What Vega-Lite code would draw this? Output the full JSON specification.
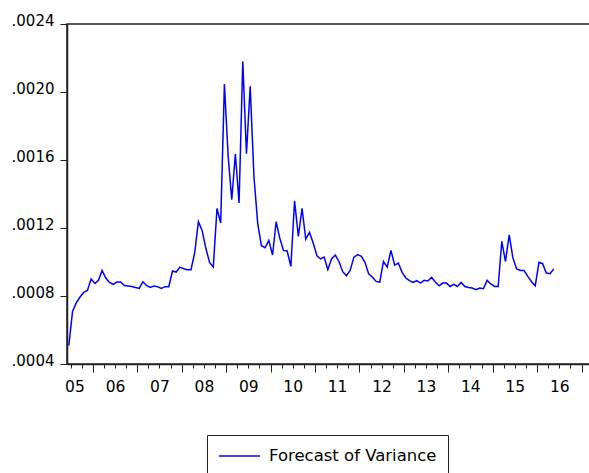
{
  "$schema": "https://vega.github.io/schema/vega-lite/v6.json",
  "width": 523,
  "height": 340,
  "autosize": "none",
  "padding": {"left": 67, "top": 24, "right": 0, "bottom": 109},
  "background": "white",
  "config": {
    "view": {"stroke": "#222", "strokeWidth": 1.5},
    "font": "DejaVu Sans",
    "axis": {"grid": false, "domainColor": "#222", "tickColor": "#222", "labelColor": "#000", "title": null, "labelFont": "DejaVu Sans"},
    "legend": {"labelFont": "DejaVu Sans"}
  },
  "data": {"values": [
    {"date": "2005-06", "v": 0.000508}, {"date": "2005-07", "v": 0.000709}, {"date": "2005-08", "v": 0.000759}, {"date": "2005-09", "v": 0.000794},
    {"date": "2005-10", "v": 0.000821}, {"date": "2005-11", "v": 0.000833}, {"date": "2005-12", "v": 0.0009},
    {"date": "2006-01", "v": 0.000874}, {"date": "2006-02", "v": 0.000892}, {"date": "2006-03", "v": 0.00095}, {"date": "2006-04", "v": 0.000906},
    {"date": "2006-05", "v": 0.00088}, {"date": "2006-06", "v": 0.000868}, {"date": "2006-07", "v": 0.000882}, {"date": "2006-08", "v": 0.000882},
    {"date": "2006-09", "v": 0.000862}, {"date": "2006-10", "v": 0.000859}, {"date": "2006-11", "v": 0.000856}, {"date": "2006-12", "v": 0.00085},
    {"date": "2007-01", "v": 0.000845}, {"date": "2007-02", "v": 0.000884}, {"date": "2007-03", "v": 0.000862}, {"date": "2007-04", "v": 0.00085},
    {"date": "2007-05", "v": 0.000859}, {"date": "2007-06", "v": 0.000855}, {"date": "2007-07", "v": 0.000845}, {"date": "2007-08", "v": 0.000855},
    {"date": "2007-09", "v": 0.000855}, {"date": "2007-10", "v": 0.000947}, {"date": "2007-11", "v": 0.000941}, {"date": "2007-12", "v": 0.00097},
    {"date": "2008-01", "v": 0.00096}, {"date": "2008-02", "v": 0.000955}, {"date": "2008-03", "v": 0.000955}, {"date": "2008-04", "v": 0.001053},
    {"date": "2008-05", "v": 0.001237}, {"date": "2008-06", "v": 0.001186}, {"date": "2008-07", "v": 0.001082}, {"date": "2008-08", "v": 0.000998},
    {"date": "2008-09", "v": 0.00097}, {"date": "2008-10", "v": 0.001315}, {"date": "2008-11", "v": 0.001229}, {"date": "2008-12", "v": 0.002047},
    {"date": "2009-01", "v": 0.001621}, {"date": "2009-02", "v": 0.001366}, {"date": "2009-03", "v": 0.001635}, {"date": "2009-04", "v": 0.001347},
    {"date": "2009-05", "v": 0.00218}, {"date": "2009-06", "v": 0.001637}, {"date": "2009-07", "v": 0.002033}, {"date": "2009-08", "v": 0.001503},
    {"date": "2009-09", "v": 0.001229}, {"date": "2009-10", "v": 0.001096}, {"date": "2009-11", "v": 0.001084}, {"date": "2009-12", "v": 0.001127},
    {"date": "2010-01", "v": 0.001041}, {"date": "2010-02", "v": 0.001237}, {"date": "2010-03", "v": 0.001141}, {"date": "2010-04", "v": 0.001068},
    {"date": "2010-05", "v": 0.001065}, {"date": "2010-06", "v": 0.000974}, {"date": "2010-07", "v": 0.00136}, {"date": "2010-08", "v": 0.00115},
    {"date": "2010-09", "v": 0.001315}, {"date": "2010-10", "v": 0.001135}, {"date": "2010-11", "v": 0.001174}, {"date": "2010-12", "v": 0.001112},
    {"date": "2011-01", "v": 0.001037}, {"date": "2011-02", "v": 0.001018}, {"date": "2011-03", "v": 0.001029}, {"date": "2011-04", "v": 0.000955},
    {"date": "2011-05", "v": 0.001018}, {"date": "2011-06", "v": 0.001041}, {"date": "2011-07", "v": 0.001003}, {"date": "2011-08", "v": 0.000943},
    {"date": "2011-09", "v": 0.000919}, {"date": "2011-10", "v": 0.00095}, {"date": "2011-11", "v": 0.001027}, {"date": "2011-12", "v": 0.001043},
    {"date": "2012-01", "v": 0.001033}, {"date": "2012-02", "v": 0.000998}, {"date": "2012-03", "v": 0.000931}, {"date": "2012-04", "v": 0.000912},
    {"date": "2012-05", "v": 0.000886}, {"date": "2012-06", "v": 0.000882}, {"date": "2012-07", "v": 0.001003}, {"date": "2012-08", "v": 0.00097},
    {"date": "2012-09", "v": 0.001068}, {"date": "2012-10", "v": 0.000982}, {"date": "2012-11", "v": 0.000994}, {"date": "2012-12", "v": 0.000939},
    {"date": "2013-01", "v": 0.000906}, {"date": "2013-02", "v": 0.00089}, {"date": "2013-03", "v": 0.00088}, {"date": "2013-04", "v": 0.00089},
    {"date": "2013-05", "v": 0.000876}, {"date": "2013-06", "v": 0.000892}, {"date": "2013-07", "v": 0.000888}, {"date": "2013-08", "v": 0.000909},
    {"date": "2013-09", "v": 0.000882}, {"date": "2013-10", "v": 0.00086}, {"date": "2013-11", "v": 0.000876}, {"date": "2013-12", "v": 0.000876},
    {"date": "2014-01", "v": 0.000856}, {"date": "2014-02", "v": 0.000868}, {"date": "2014-03", "v": 0.000856}, {"date": "2014-04", "v": 0.00088},
    {"date": "2014-05", "v": 0.000856}, {"date": "2014-06", "v": 0.00085}, {"date": "2014-07", "v": 0.000847}, {"date": "2014-08", "v": 0.000837},
    {"date": "2014-09", "v": 0.000847}, {"date": "2014-10", "v": 0.000843}, {"date": "2014-11", "v": 0.000892}, {"date": "2014-12", "v": 0.000871},
    {"date": "2015-01", "v": 0.000856}, {"date": "2015-02", "v": 0.000856}, {"date": "2015-03", "v": 0.001121}, {"date": "2015-04", "v": 0.001003},
    {"date": "2015-05", "v": 0.00116}, {"date": "2015-06", "v": 0.001024}, {"date": "2015-07", "v": 0.000959}, {"date": "2015-08", "v": 0.00095},
    {"date": "2015-09", "v": 0.00095}, {"date": "2015-10", "v": 0.000915}, {"date": "2015-11", "v": 0.000884}, {"date": "2015-12", "v": 0.00086},
    {"date": "2016-01", "v": 0.000998}, {"date": "2016-02", "v": 0.00099}, {"date": "2016-03", "v": 0.000935}, {"date": "2016-04", "v": 0.000931},
    {"date": "2016-05", "v": 0.000959}
  ]},
  "layer": [
    {
      "mark": {"type": "line", "color": "#0000ff", "strokeWidth": 1.5},
      "encoding": {
        "x": {
          "field": "date", "timeUnit": "utcyearmonth", "type": "temporal", "bandPosition": 0.5,
          "scale": {"type": "utc", "domain": [{"year": 2005, "month": 6, "date": 1, "utc": true}, {"year": 2017, "month": 3, "date": 11, "utc": true}]},
          "axis": {
            "orient": "bottom", "labels": false, "tickSize": 8, "tickWidth": 1, "domainWidth": 1.5,
            "values": [
              {"year": 2006, "month": 1, "date": 1, "utc": true}, {"year": 2007, "month": 1, "date": 1, "utc": true},
              {"year": 2008, "month": 1, "date": 1, "utc": true}, {"year": 2009, "month": 1, "date": 1, "utc": true},
              {"year": 2010, "month": 1, "date": 1, "utc": true}, {"year": 2011, "month": 1, "date": 1, "utc": true},
              {"year": 2012, "month": 1, "date": 1, "utc": true}, {"year": 2013, "month": 1, "date": 1, "utc": true},
              {"year": 2014, "month": 1, "date": 1, "utc": true}, {"year": 2015, "month": 1, "date": 1, "utc": true},
              {"year": 2016, "month": 1, "date": 1, "utc": true}, {"year": 2017, "month": 1, "date": 1, "utc": true}
            ]
          }
        },
        "y": {
          "field": "v", "type": "quantitative",
          "scale": {"domain": [0.0004, 0.0024], "nice": false, "zero": false},
          "axis": {
            "values": [0.0004, 0.0008, 0.0012, 0.0016, 0.002, 0.0024],
            "labelExpr": "replace(format(datum.value, '.4f'), '0.', '.')",
            "tickSize": 7, "domainWidth": 1.5, "labelFontSize": 15, "labelPadding": 6, "labelOffset": -4
          }
        },
        "color": {
          "datum": "Forecast of Variance",
          "scale": {"range": ["#0000ff"]},
          "legend": {
            "orient": "none", "legendX": 140, "legendY": 411, "title": null,
            "strokeColor": "#222", "fillColor": "white", "padding": 11, "cornerRadius": 0,
            "symbolType": "stroke", "symbolSize": 1681, "symbolStrokeWidth": 1.3, "clipHeight": 20,
            "labelFontSize": 16.5, "labelOffset": 8, "labelColor": "#000", "labelLimit": 400
          }
        }
      }
    },
    {
      "mark": {"type": "point", "opacity": 0},
      "encoding": {
        "x": {
          "field": "date", "timeUnit": "utcyearmonth", "type": "temporal", "bandPosition": 0.5,
          "axis": {
            "orient": "bottom", "labels": false, "domain": false, "tickSize": 4, "tickWidth": 1,
            "values": [
              {"year": 2005, "month": 7, "date": 1, "utc": true}, {"year": 2005, "month": 10, "date": 1, "utc": true},
              {"year": 2006, "month": 4, "date": 1, "utc": true}, {"year": 2006, "month": 7, "date": 1, "utc": true}, {"year": 2006, "month": 10, "date": 1, "utc": true},
              {"year": 2007, "month": 4, "date": 1, "utc": true}, {"year": 2007, "month": 7, "date": 1, "utc": true}, {"year": 2007, "month": 10, "date": 1, "utc": true},
              {"year": 2008, "month": 4, "date": 1, "utc": true}, {"year": 2008, "month": 7, "date": 1, "utc": true}, {"year": 2008, "month": 10, "date": 1, "utc": true},
              {"year": 2009, "month": 4, "date": 1, "utc": true}, {"year": 2009, "month": 7, "date": 1, "utc": true}, {"year": 2009, "month": 10, "date": 1, "utc": true},
              {"year": 2010, "month": 4, "date": 1, "utc": true}, {"year": 2010, "month": 7, "date": 1, "utc": true}, {"year": 2010, "month": 10, "date": 1, "utc": true},
              {"year": 2011, "month": 4, "date": 1, "utc": true}, {"year": 2011, "month": 7, "date": 1, "utc": true}, {"year": 2011, "month": 10, "date": 1, "utc": true},
              {"year": 2012, "month": 4, "date": 1, "utc": true}, {"year": 2012, "month": 7, "date": 1, "utc": true}, {"year": 2012, "month": 10, "date": 1, "utc": true},
              {"year": 2013, "month": 4, "date": 1, "utc": true}, {"year": 2013, "month": 7, "date": 1, "utc": true}, {"year": 2013, "month": 10, "date": 1, "utc": true},
              {"year": 2014, "month": 4, "date": 1, "utc": true}, {"year": 2014, "month": 7, "date": 1, "utc": true}, {"year": 2014, "month": 10, "date": 1, "utc": true},
              {"year": 2015, "month": 4, "date": 1, "utc": true}, {"year": 2015, "month": 7, "date": 1, "utc": true}, {"year": 2015, "month": 10, "date": 1, "utc": true},
              {"year": 2016, "month": 4, "date": 1, "utc": true}, {"year": 2016, "month": 7, "date": 1, "utc": true}, {"year": 2016, "month": 10, "date": 1, "utc": true}
            ]
          }
        }
      }
    },
    {
      "mark": {"type": "point", "opacity": 0},
      "encoding": {
        "x": {
          "field": "date", "timeUnit": "utcyearmonth", "type": "temporal", "bandPosition": 0.5,
          "axis": {
            "orient": "bottom", "ticks": false, "domain": false, "labelFontSize": 15.5, "labelPadding": 15,
            "labelFlush": false, "labelOverlap": false, "labelBound": false,
            "labelExpr": "utcFormat(datum.value, '%y')",
            "values": [
              {"year": 2005, "month": 8, "date": 1, "utc": true}, {"year": 2006, "month": 7, "date": 1, "utc": true},
              {"year": 2007, "month": 7, "date": 1, "utc": true}, {"year": 2008, "month": 7, "date": 1, "utc": true},
              {"year": 2009, "month": 7, "date": 1, "utc": true}, {"year": 2010, "month": 7, "date": 1, "utc": true},
              {"year": 2011, "month": 7, "date": 1, "utc": true}, {"year": 2012, "month": 7, "date": 1, "utc": true},
              {"year": 2013, "month": 7, "date": 1, "utc": true}, {"year": 2014, "month": 7, "date": 1, "utc": true},
              {"year": 2015, "month": 7, "date": 1, "utc": true}, {"year": 2016, "month": 7, "date": 1, "utc": true}
            ]
          }
        }
      }
    }
  ],
  "resolve": {"axis": {"x": "independent"}}
}
